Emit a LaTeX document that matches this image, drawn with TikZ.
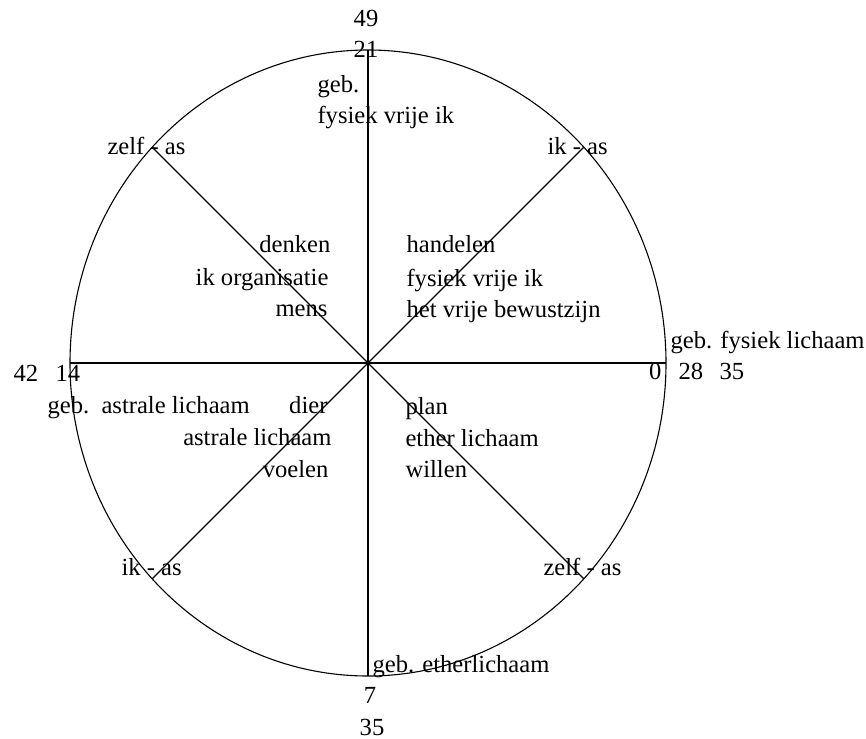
\documentclass[tikz,border=0pt]{standalone}
\usepackage{fontspec}
\setmainfont{Liberation Serif}
\usetikzlibrary{positioning}

\begin{document}
\begin{tikzpicture}[x=0.5pt,y=-0.5pt,line width=0.55pt,font=\fontsize{12.3}{14}\selectfont,
  lbl/.style={inner sep=0pt},
  lw/.style={lbl,anchor=base west},
  le/.style={lbl,anchor=base east},
  lc/.style={lbl,anchor=base}]
  \useasboundingbox (0,0) rectangle (866,738);
  \coordinate (c) at (368,363);
  \coordinate (n) at (368,50);  \coordinate (s) at (368,676);
  \coordinate (w) at (70,363);  \coordinate (e) at (666,363);
  \coordinate (nw) at (152,147); \coordinate (ne) at (584,147);
  \coordinate (sw) at (152,579); \coordinate (se) at (584,579);
  \draw (c) ellipse [x radius=298,y radius=313];
  \draw (n)--(s); \draw (w)--(e);
  \draw (nw)--(se); \draw (ne)--(sw);
  % top
  \node[lc] (t49) at (366,27) {49};
  \node[lc] (t21) at (366,58) {21};
  \node[lw] (gebik) at (317,92) {geb.};
  \node[lw] (vrijik) at (317,123) {fysiek vrije ik};
  \node[lw] (zelfnw) at (107,155) {zelf - as};
  \node[lw] (ikne) at (547,155) {ik - as};
  % upper quarters
  \node[le] (denken) at (331,252) {denken};
  \node[le] (ikorg) at (329,285) {ik organisatie};
  \node[le] (mens) at (328,316) {mens};
  \node[lw] (handelen) at (406,252) {handelen};
  \node[lw] (fysvrij) at (406,286) {fysiek vrije ik};
  \node[lw] (bewust) at (406,317) {het vrije bewustzijn};
  % horizontal axis
  \node[lw] (gebfys) at (670,348) {geb. fysiek lichaam};
  \node[le] (e0) at (662,379) {0};
  \node[lw] (e28) at (678,379) {28};
  \node[lw] (e35) at (719,379) {35};
  \node[lw] (w42) at (13,381) {42};
  \node[lw] (w14) at (55,381) {14};
  \node[lw] (gebast) at (47,413) {geb.\ \ astrale lichaam};
  % lower quarters
  \node[le] (dier) at (328,413) {dier};
  \node[le] (astraal) at (332,445) {astrale lichaam};
  \node[le] (voelen) at (329,477) {voelen};
  \node[lw] (plan) at (405,414) {plan};
  \node[lw] (ether) at (405,446) {ether lichaam};
  \node[lw] (willen) at (405,477) {willen};
  % bottom
  \node[lw] (iksw) at (121,575) {ik - as};
  \node[lw] (zelfse) at (543,575) {zelf - as};
  \node[lw] (gebeth) at (372,672) {geb. etherlichaam};
  \node[lc] (s7) at (370,703) {7};
  \node[lc] (s35) at (372,735) {35};
\end{tikzpicture}
\end{document}
